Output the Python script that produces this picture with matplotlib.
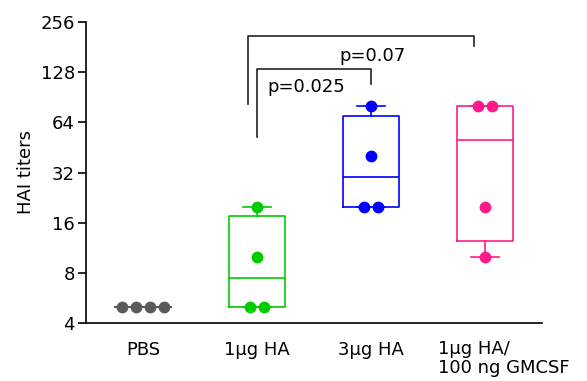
import numpy as np
import matplotlib
matplotlib.use("Agg")
import matplotlib.pyplot as plt
import matplotlib.transforms as mtransforms

plt.rcParams['font.family'] = ['DejaVu Sans']

categories = ["PBS", "1\u03bcg HA", "3\u03bcg HA", "1\u03bcg HA/\n100 ng GMCSF"]
pbs = [5, 5, 5, 5]
ha1 = [5, 5, 10, 20]
ha3 = [20, 20, 40, 80]
gmcsf = [10, 20, 80, 80]
groups = [pbs, ha1, ha3, gmcsf]
colors = ["#5a5a5a", "#00cc00", "#0000ff", "#ff1a8c"]
yticks = [4, 8, 16, 32, 64, 128, 256]
comparisons = [("p=0.025", 1, 2), ("p=0.07", 1, 3)]

FS = 13


def gp_quantile(vals, q):
    v = np.sort(np.asarray(vals, float))
    n = len(v)
    r = q * (n + 1) - 1
    r = min(max(r, 0), n - 1)
    lo = int(np.floor(r))
    hi = min(lo + 1, n - 1)
    return v[lo] + (r - lo) * (v[hi] - v[lo])


fig = plt.figure(figsize=(5.87, 3.81), dpi=100)
ax = fig.add_axes([86 / 587, 1 - 323 / 381, (542 - 86) / 587, (323 - 22) / 381])
ax.set_yscale('log', base=2)

box_w = 0.49
spacing = 0.122
for i, (vals, c) in enumerate(zip(groups, colors)):
    stats = dict(med=gp_quantile(vals, 0.5), q1=gp_quantile(vals, 0.25),
                 q3=gp_quantile(vals, 0.75), whislo=min(vals), whishi=max(vals),
                 fliers=[])
    ax.bxp([stats], positions=[i], widths=box_w, showfliers=False,
           boxprops=dict(color=c, lw=1.2), medianprops=dict(color=c, lw=1.2),
           whiskerprops=dict(color=c, lw=1.2), capprops=dict(color=c, lw=1.2),
           capwidths=box_w * 0.5, manage_ticks=False)
    uniq = sorted(set(vals))
    for u in uniq:
        k = vals.count(u)
        offs = (np.arange(k) - (k - 1) / 2) * spacing
        ax.plot(i + offs, [u] * k, 'o', color=c, ms=8.5, mec='none', zorder=5,
                clip_on=False)

ax.set_xlim(-0.5, 3.5)
ax.set_ylim(4, 256)
ax.set_yticks(yticks)
ax.set_yticklabels([str(t) for t in yticks])
ax.yaxis.set_minor_locator(matplotlib.ticker.NullLocator())
ax.set_xticks(range(len(categories) - 1))
ax.set_xticklabels(categories[:-1], fontsize=FS)
trans = mtransforms.blended_transform_factory(ax.transData, ax.transAxes)
ax.text(2.59, -0.055, categories[-1], transform=trans, ha='left', va='top',
        fontsize=FS, linespacing=1.1)
ax.tick_params(axis='x', length=0, pad=13)
ax.tick_params(axis='y', length=6, width=1.2, labelsize=FS, pad=2)
ax.set_ylabel("HAI titers", fontsize=FS, labelpad=4)
for s in ['top', 'right']:
    ax.spines[s].set_visible(False)
for s in ['left', 'bottom']:
    ax.spines[s].set_linewidth(1.2)

# significance brackets
ax.plot([1.0, 1.0, 2.0, 2.0], [52, 133, 133, 108], color='#222222', lw=1.2,
        clip_on=False)
ax.text(1.43, 104, "p=0.025", ha='center', va='center', fontsize=FS)
ax.plot([0.925, 0.925, 2.905, 2.905], [82, 210, 210, 184], color='#222222',
        lw=1.2, clip_on=False)
ax.text(2.01, 161, "p=0.07", ha='center', va='center', fontsize=FS)

fig.savefig("out.png", dpi=100)
